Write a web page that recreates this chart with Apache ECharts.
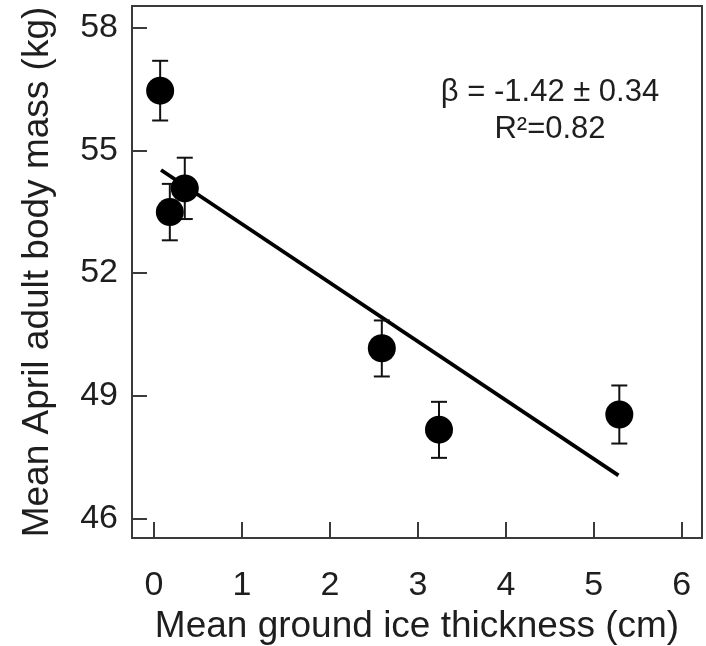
<!DOCTYPE html>
<html>
<head>
<meta charset="utf-8">
<script src="https://cdn.jsdelivr.net/npm/echarts@6/dist/echarts.min.js"></script>
<style>html,body{margin:0;padding:0;background:#fff}#c{width:706px;height:646px}</style>
</head>
<body>
<div id="c"></div>
<script>
// Data
const iceThickness = [0.07, 0.18, 0.35, 2.59, 3.24, 5.29];
const bodyMass = [56.46, 53.49, 54.07, 50.16, 48.17, 48.54];
const errLow = [55.73, 52.80, 53.32, 49.47, 47.48, 47.83];
const errHigh = [57.19, 54.18, 54.82, 50.84, 48.85, 49.25];
const fitX = [0.08, 5.28];
const fitY = [54.52, 47.05];
const xTicks = [0, 1, 2, 3, 4, 5, 6];
const yTicks = [46, 49, 52, 55, 58];
const statLine1 = 'β = -1.42 ± 0.34';
const statLine2 = 'R²=0.82';

const FONT = 'Liberation Sans, Arial, sans-serif';
const AX = '#3a3a3a';
const TXT = '#1e1e1e';

const chart = echarts.init(document.getElementById('c'), null, {renderer: 'canvas'});
chart.setOption({
  animation: false,
  backgroundColor: '#fff',
  grid: {left: 132, right: 4, top: 6, bottom: 108, containLabel: false, outerBoundsMode: 'none',
         show: true, borderColor: AX, borderWidth: 2, backgroundColor: 'transparent'},
  xAxis: {
    type: 'value', min: -0.25, max: 6.23,
    name: 'Mean ground ice thickness (cm)', nameLocation: 'middle', nameGap: 63,
    nameTextStyle: {fontFamily: FONT, fontSize: 37, color: TXT},
    axisLine: {show: true, onZero: false, lineStyle: {color: AX, width: 2}},
    axisTick: {show: true, inside: true, length: 16, customValues: xTicks, lineStyle: {color: AX, width: 2}},
    axisLabel: {customValues: xTicks, margin: 31, fontFamily: FONT, fontSize: 34, color: TXT},
    splitLine: {show: false}
  },
  yAxis: {
    type: 'value', min: 45.52, max: 58.53,
    name: 'Mean April adult body mass (kg)', nameLocation: 'middle', nameGap: 76, nameRotate: 90,
    nameTextStyle: {fontFamily: FONT, fontSize: 37, color: TXT},
    axisLine: {show: true, onZero: false, lineStyle: {color: AX, width: 2}},
    axisTick: {show: true, inside: true, length: 15, customValues: yTicks, lineStyle: {color: AX, width: 2}},
    axisLabel: {customValues: yTicks, margin: 14, fontFamily: FONT, fontSize: 34, color: TXT},
    splitLine: {show: false}
  },
  graphic: [
    {type: 'text', x: 550, y: 92, style: {text: statLine1, font: '31px ' + FONT, fill: TXT, align: 'center', verticalAlign: 'middle'}},
    {type: 'text', x: 550, y: 129, style: {text: statLine2, font: '31px ' + FONT, fill: TXT, align: 'center', verticalAlign: 'middle'}}
  ],
  series: [
    {
      type: 'line', data: fitX.map((x, i) => [x, fitY[i]]), symbol: 'none',
      lineStyle: {color: '#000', width: 3.8}, z: 2
    },
    {
      type: 'custom',
      data: iceThickness.map((x, i) => [x, errLow[i], errHigh[i]]),
      renderItem: function (params, api) {
        const lo = api.coord([api.value(0), api.value(1)]);
        const hi = api.coord([api.value(0), api.value(2)]);
        const w = 8;
        const st = {stroke: '#111', lineWidth: 2};
        return {type: 'group', children: [
          {type: 'line', shape: {x1: lo[0], y1: lo[1], x2: hi[0], y2: hi[1]}, style: st},
          {type: 'line', shape: {x1: lo[0] - w, y1: lo[1], x2: lo[0] + w, y2: lo[1]}, style: st},
          {type: 'line', shape: {x1: hi[0] - w, y1: hi[1], x2: hi[0] + w, y2: hi[1]}, style: st}
        ]};
      },
      z: 3
    },
    {
      type: 'scatter', data: iceThickness.map((x, i) => [x, bodyMass[i]]),
      symbol: 'circle', symbolSize: 28, itemStyle: {color: '#000', opacity: 1}, z: 4
    }
  ]
});
</script>
</body>
</html>
